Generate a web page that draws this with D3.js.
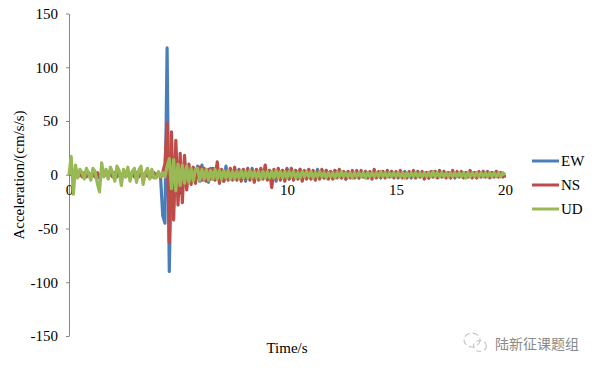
<!DOCTYPE html>
<html>
<head>
<meta charset="utf-8">
<script src="https://cdn.jsdelivr.net/npm/d3@7"></script>
<style>
  body { margin: 0; background: #fff; }
  svg text { font-family: "Times New Roman", "Liberation Serif", serif; }
</style>
</head>
<body>
<svg id="chart" width="596" height="368"></svg>
<script>
// sampled every 0.1 s, from 0 to 20 s (201 values each)
var sampleStep = 0.1;

var seriesNames = ["EW", "NS", "UD"];
var seriesColors = ["#4a7ebb", "#be4b48", "#98b954"];

var ewValues = [
  0, 3, -4, 2, -2, 1, -1, 2, -2, 1,
  -1, 2, -2, 1, -3, 2, -1, 1, -2, 2,
  -1, 1, -2, 2, -1, 2, -2, 1, -1, 2,
  -2, 1, -1, 2, -2, 1, -1, 2, -1, 1,
  -2, 2, -2, -38, -45, 118, -90, 20, -30, 22,
  -18, 12, -10, 11, -8, 6, -6, 5, -4, 8,
  -6, 9, -5, 4, -7, 6, -4, 5, 8, -5,
  4, -6, 8, -4, 3, -5, 4, -3, 5, -4,
  3, -6, 4, -3, 6, -4, 3, -5, 4, -3,
  5, -3, 4, -4, 3, -6, 5, -3, 4, -3,
  6, -4, 3, -3, 4, -3, 5, -4, 3, -3,
  4, -3, 3, -4, 5, -3, 3, -3, 4, -2,
  3, -3, 4, -2, 3, -3, 2, -4, 3, -2,
  3, -2, 4, -3, 2, -2, 3, -3, 2, -2,
  3, -2, 2, -3, 3, -2, 2, -2, 3, -2,
  2, -3, 2, -2, 3, -2, 2, -3, 2, -2,
  3, -2, 2, -2, 2, -3, 2, -2, 3, -2,
  2, -2, 3, -2, 2, -2, 2, -3, 2, -2,
  2, -2, 2, -2, 3, -2, 2, -2, 2, -2,
  3, -2, 2, -2, 2, -2, 3, -2, 2, -2,
  0
];

var nsValues = [
  0, 2, -3, 2, -1, 2, -2, 1, -1, 2,
  -2, 1, -2, 2, -2, 1, -1, 2, -1, 1,
  -2, 2, -1, 1, -2, 1, -1, 2, -2, 1,
  -1, 2, -2, 1, -1, 2, -1, 1, -2, 2,
  -2, 2, -3, 2, 10, 48, -63, 40, -42, 32,
  -28, 20, -26, 18, -14, 10, -9, 7, -8, 6,
  7, -5, 6, -6, 5, -4, 6, -5, 12, -8,
  5, -6, 4, -5, 6, -4, 7, -5, 4, -6,
  5, -4, 6, -5, 4, -7, 5, -4, 6, -4,
  9, -5, 4, -12, 5, -4, 6, -5, 4, -6,
  5, -4, 6, -5, 4, -4, 5, -6, 4, -4,
  5, -4, 4, -5, 3, -4, 5, -3, 4, -4,
  3, -4, 4, -3, 5, -3, 3, -4, 3, -3,
  4, -3, 3, -3, 4, -2, 3, -3, 3, -4,
  5, -3, 3, -2, 3, -3, 4, -2, 3, -3,
  3, -2, 4, -3, 2, -3, 3, -2, 4, -3,
  3, -2, 3, -4, 2, -3, 3, -2, 3, -3,
  4, -2, 3, -3, 2, -3, 4, -2, 3, -2,
  3, -3, 2, -2, 4, -3, 2, -3, 3, -2,
  3, -2, 3, -3, 2, -2, 3, -2, 2, -2,
  0
];

var udValues = [
  0, 17, -18, 9, -3, 5, 2, -4, 6, 1,
  -5, 6, 3, -8, -16, 11, -2, 5, -4, 7,
  2, -6, 8, 4, -10, 5, -2, 7, -6, 3,
  6, -7, 4, 8, -9, 2, 6, -4, 5, -3,
  -3, 3, -2, 2, -2, 8, 15, -13, 14, -15,
  10, -10, 9, -8, 8, -7, 6, -6, 5, 6,
  -5, 5, -4, 5, -5, 4, -4, 5, -4, 4,
  -4, 4, -3, 4, -4, 3, -4, 3, -3, 4,
  -3, 3, -3, 4, -3, 3, -3, 3, -4, 3,
  -3, 3, -3, 3, -3, 4, -3, 3, -3, 3,
  -3, 3, -2, 3, -3, 2, -3, 3, -2, 3,
  -2, 3, -3, 2, -2, 3, -2, 2, -3, 2,
  -2, 2, -3, 2, -2, 3, -2, 2, -2, 2,
  -3, 2, -2, 2, -2, 2, -3, 2, -2, 2,
  -2, 2, -2, 3, -2, 2, -2, 2, -2, 2,
  -2, 2, -2, 2, -3, 2, -2, 2, -2, 2,
  -2, 2, -2, 2, -2, 2, -2, 3, -2, 2,
  -2, 2, -2, 2, -2, 2, -2, 2, -2, 2,
  -2, 2, -3, 2, -2, 2, -2, 2, -2, 2,
  -2, 2, -2, 2, -2, 2, -2, 2, -2, 2,
  0
];

var xTicks = [0, 5, 10, 15, 20];
var yTicks = [-150, -100, -50, 0, 50, 100, 150];

var allSeries = [ewValues, nsValues, udValues];

var svg = d3.select("#chart");
var axisColor = "#868686";
var serif = '"Times New Roman", "Liberation Serif", serif';

var x = d3.scaleLinear().domain([0, 20]).range([69, 505]);
var y = d3.scaleLinear().domain([-150, 150]).range([336, 13.5]);

// y axis (plain hyphen for negatives, like the original)
var yAxis = svg.append("g")
  .attr("transform", "translate(69,0)")
  .call(d3.axisLeft(y).tickValues(yTicks).tickFormat(function(d) { return String(d); })
    .tickSize(3).tickSizeOuter(0).tickPadding(8));
yAxis.attr("font-family", serif).attr("font-size", 15);
yAxis.select(".domain").attr("stroke", axisColor);
yAxis.selectAll(".tick line").attr("stroke", axisColor);
yAxis.selectAll("text").attr("fill", "#000");

// x axis sits on the zero line
var xAxis = svg.append("g")
  .attr("transform", "translate(0," + y(0) + ")")
  .call(d3.axisBottom(x).tickValues(xTicks).tickFormat(function(d) { return String(d); })
    .tickSize(3).tickSizeOuter(0).tickPadding(7));
xAxis.attr("font-family", serif).attr("font-size", 15);
xAxis.select(".domain").attr("stroke", axisColor);
xAxis.selectAll(".tick line").attr("stroke", axisColor);
xAxis.selectAll("text").attr("fill", "#000");

// traces
var line = d3.line()
  .x(function(d, i) { return x(i * sampleStep); })
  .y(function(d) { return y(d); });

allSeries.forEach(function(vals, k) {
  svg.append("path")
    .datum(vals)
    .attr("fill", "none")
    .attr("stroke", seriesColors[k])
    .attr("stroke-width", 3.2)
    .attr("stroke-linejoin", "round")
    .attr("d", line);
});

// axis titles
svg.append("text")
  .attr("transform", "translate(24,175) rotate(-90)")
  .attr("text-anchor", "middle")
  .attr("font-size", 15)
  .text("Acceleration/(cm/s/s)");

svg.append("text")
  .attr("x", 287)
  .attr("y", 353)
  .attr("text-anchor", "middle")
  .attr("font-size", 15)
  .text("Time/s");

// legend
var legend = svg.append("g");
seriesNames.forEach(function(name, k) {
  var ly = 161 + k * 24;
  legend.append("line")
    .attr("x1", 532).attr("x2", 559)
    .attr("y1", ly).attr("y2", ly)
    .attr("stroke", seriesColors[k])
    .attr("stroke-width", 3);
  legend.append("text")
    .attr("x", 561)
    .attr("y", ly + 5)
    .attr("font-size", 15)
    .text(name);
});

// watermark
var wm = svg.append("g").attr("fill", "none").attr("stroke", "#c8c8c8").attr("stroke-width", 1.2);
wm.append("ellipse").attr("cx", 472).attr("cy", 340).attr("rx", 8).attr("ry", 7)
  .attr("stroke-dasharray", "6,3");
wm.append("ellipse").attr("cx", 480).attr("cy", 346).attr("rx", 6.5).attr("ry", 5.5)
  .attr("stroke-dasharray", "5,3");
svg.append("text")
  .attr("x", 495)
  .attr("y", 349)
  .attr("font-size", 14)
  .attr("fill", "#8a8a8a")
  .style("font-family", '"Noto Sans CJK SC", sans-serif')
  .text("陆新征课题组");
</script>
</body>
</html>
